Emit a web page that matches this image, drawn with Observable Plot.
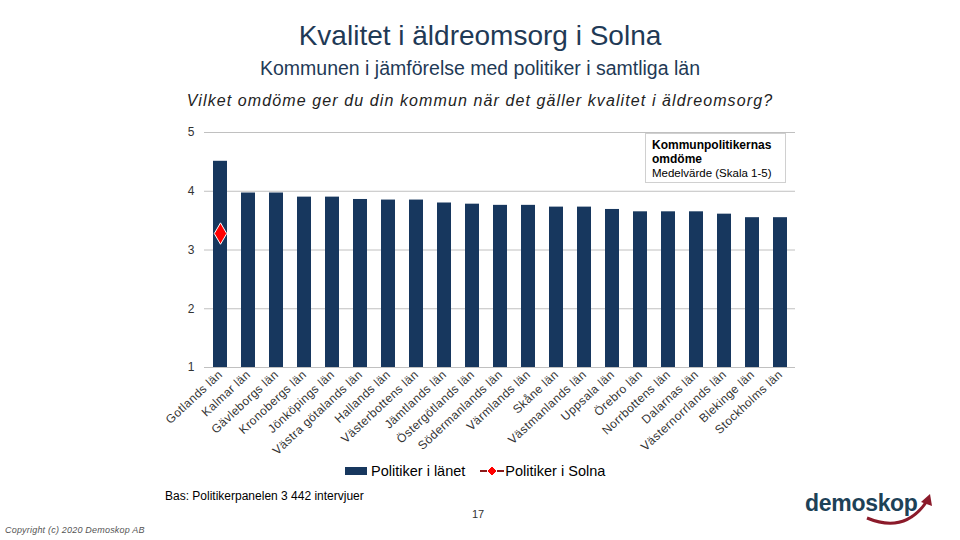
<!DOCTYPE html>
<html>
<head>
<meta charset="utf-8">
<script src="https://cdn.jsdelivr.net/npm/d3@7"></script>
<script src="https://cdn.jsdelivr.net/npm/@observablehq/plot@0.6"></script>
<style>
  body { margin: 0; background: #fff; font-family: "Liberation Sans", Arial, sans-serif; }
  #wrap { position: relative; width: 960px; height: 540px; overflow: hidden; }
  #chart svg { position: absolute; left: 0; top: 0; }
  #chart svg g[aria-label="x-axis tick label"] text { letter-spacing: 0.4px; }
  .t { position: absolute; white-space: nowrap; }
</style>
</head>
<body>
<div id="wrap">
  <div id="chart"></div>
  <div class="t" style="left:0;width:960px;text-align:center;top:20px;font-size:28px;color:#1f3a56;">Kvalitet i äldreomsorg i Solna</div>
  <div class="t" style="left:0;width:960px;text-align:center;top:57px;font-size:19.5px;color:#1f3a56;">Kommunen i jämförelse med politiker i samtliga län</div>
  <div class="t" style="left:0;width:960px;text-align:center;top:92px;font-size:16px;font-style:italic;letter-spacing:1.1px;color:#222;">Vilket omdöme ger du din kommun när det gäller kvalitet i äldreomsorg?</div>
  <div class="t" style="left:645px;top:133px;width:141px;height:50px;border:1px solid #d0d0d0;box-sizing:border-box;padding:4px 0 0 6px;font-size:12px;line-height:14px;color:#000;">
    <div style="font-weight:bold;">Kommunpolitikernas</div>
    <div style="font-weight:bold;">omdöme</div>
    <div style="font-size:11.5px;">Medelvärde (Skala 1-5)</div>
  </div>
  <div class="t" style="left:345px;top:463px;font-size:14.5px;color:#000;">
    <span style="display:inline-block;width:22px;height:8px;background:#17375e;vertical-align:1px;"></span> Politiker i länet
    <svg width="26" height="12" style="vertical-align:-1px;margin-left:10px;"><line x1="1" y1="6" x2="25" y2="6" stroke="#8b1a1a" stroke-width="2"/><path d="M13 1 L18 6 L13 11 L8 6 Z" fill="#ff0000" stroke="#fff" stroke-width="1"/></svg>Politiker i Solna
  </div>
  <div class="t" style="left:165px;top:489px;font-size:12px;color:#000;">Bas: Politikerpanelen 3 442 intervjuer</div>
  <div class="t" style="left:472px;top:508px;font-size:11px;color:#333;">17</div>
  <div class="t" style="left:5px;top:525px;font-size:9px;font-style:italic;letter-spacing:0.2px;color:#555;">Copyright (c)  2020  Demoskop AB</div>
  <div class="t" style="left:805px;top:486px;">
    <svg width="140" height="45">
      <text x="0" y="25" font-family="Liberation Sans, Arial, sans-serif" font-size="23" font-weight="bold" fill="#1d4157" letter-spacing="-0.3">demoskop</text>
      <path d="M 62 32 Q 100 48 122 15" fill="none" stroke="#8b1a2a" stroke-width="3"/>
      <path d="M 116 16 L 125 8 L 127 20 Z" fill="#8b1a2a"/>
    </svg>
  </div>
</div>
<script>
const regions = ["Gotlands län","Kalmar län","Gävleborgs län","Kronobergs län","Jönköpings län","Västra götalands län","Hallands län","Västerbottens län","Jämtlands län","Östergötlands län","Södermanlands län","Värmlands län","Skåne län","Västmanlands län","Uppsala län","Örebro län","Norrbottens län","Dalarnas län","Västernorrlands län","Blekinge län","Stockholms län"];
const values = [4.51, 3.97, 3.97, 3.90, 3.90, 3.86, 3.85, 3.85, 3.80, 3.78, 3.76, 3.76, 3.73, 3.73, 3.69, 3.65, 3.65, 3.65, 3.61, 3.55, 3.55];
const solnaRegions = ["Gotlands län"];
const solnaValues = [3.28];
const yTicks = [1, 2, 3, 4, 5];

const bars = regions.map((r, i) => ({region: r, value: values[i]}));
const solna = solnaRegions.map((r, i) => ({region: r, value: solnaValues[i]}));

const chart = Plot.plot({
  width: 960,
  height: 540,
  marginLeft: 204,
  marginRight: 165,
  marginTop: 132,
  marginBottom: 173,
  style: {fontFamily: "Liberation Sans, Arial, sans-serif", background: "transparent"},
  x: {type: "band", domain: regions, paddingInner: 0.5, paddingOuter: 0.25},
  y: {domain: [1, 5]},
  marks: [
    Plot.gridY(yTicks, {stroke: "#c0c0c0", strokeOpacity: 1}),
    Plot.barY(bars, {x: "region", y1: () => 1, y2: "value", fill: "#17375e"}),
    Plot.dot(solna, {x: "region", y: "value", symbol: "diamond", r: 6.5, fill: "#ff0000", stroke: "#ffffff", strokeWidth: 1}),
    Plot.axisY(yTicks, {tickSize: 0, tickPadding: 10, fontSize: 12, color: "#333", label: null, tickFormat: d3.format("d")}),
    Plot.axisX({tickSize: 0, tickPadding: 5, tickRotate: -43, fontSize: 12, color: "#333", label: null})
  ]
});
document.getElementById("chart").appendChild(chart);
</script>
</body>
</html>
